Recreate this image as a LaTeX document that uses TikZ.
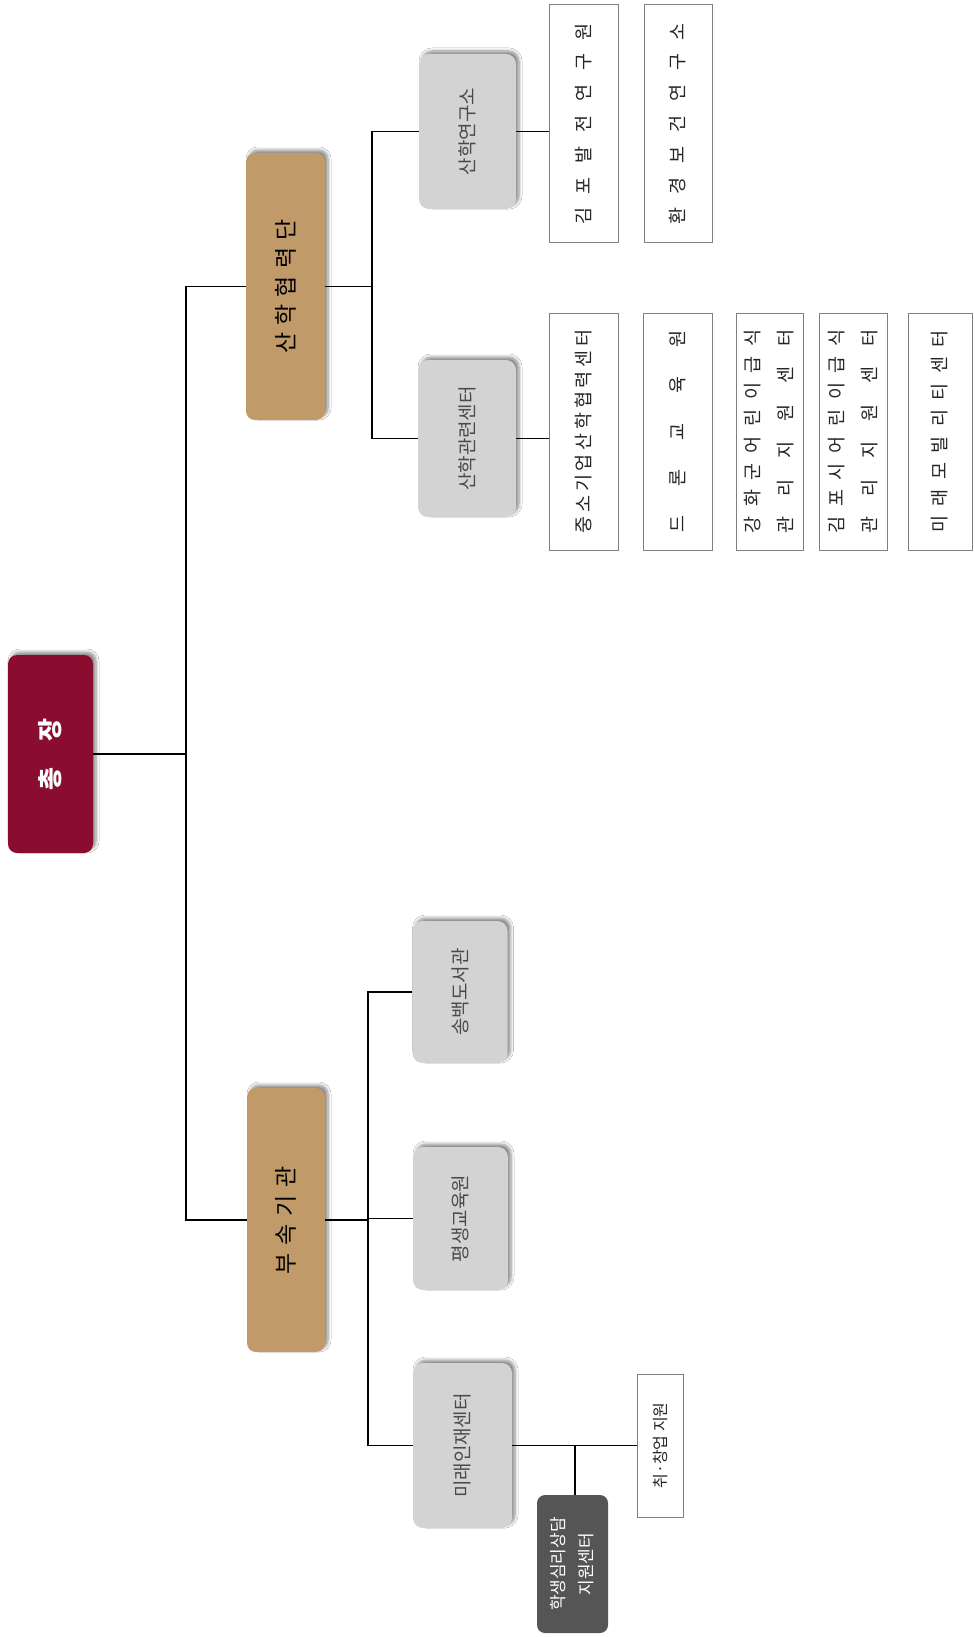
\documentclass[tikz,border=0pt]{standalone}
\usepackage{fontspec}
\setmainfont{Noto Sans CJK KR}
\usetikzlibrary{shadows,shadows.blur}
\definecolor{chiefc}{HTML}{8A0C2E}
\definecolor{tanc}{HTML}{C09A69}
\definecolor{lgray}{HTML}{D3D3D3}
\definecolor{dgray}{HTML}{555555}
\definecolor{bord}{HTML}{808080}
\definecolor{gtext}{HTML}{4A4A4A}
\newcommand\vspread[3]{\rotatebox{90}{\fontsize{#1}{#1}\selectfont\makebox[#2][s]{#3}}}
\newcommand\vplain[2]{\rotatebox{90}{\fontsize{#1}{#1}\selectfont #2}}
\newcommand\vtwo[4]{\rotatebox{90}{\fontsize{#1}{#1}\selectfont\vbox{\baselineskip=#2\lineskiplimit=0pt\hbox{#3}\hbox{#4}}}}
\tikzset{
  sh/.style={blur shadow={shadow xshift=3pt,shadow yshift=3pt,shadow blur steps=6,shadow blur radius=3pt,shadow opacity=45}},
  chiefbox/.style={fill=chiefc, text=white, rounded corners=9pt, inner sep=0pt, sh},
  tanbox/.style={fill=tanc, text=black, rounded corners=9pt, inner sep=0pt, sh},
  graybox/.style={fill=lgray, text=gtext, rounded corners=10pt, inner sep=0pt, sh},
  darkbox/.style={fill=dgray, text=white, rounded corners=8pt, inner sep=0pt},
  whitebox/.style={draw=bord, fill=white, line width=1pt, inner sep=0pt, text=black!85},
  conn/.style={draw=black, line width=1.1pt},
}
\begin{document}
\begin{tikzpicture}[x=1pt,y=-1pt]
\path[use as bounding box, fill=white] (0,0) rectangle (974,1637);

% top level
\node[chiefbox, minimum width=85pt, minimum height=198pt] (chief) at (50.5,754)
  {\rotatebox{90}{\bfseries\fontsize{25}{25}\selectfont\makebox[72pt][s]{총 장}}};
\node[tanbox, minimum width=79pt, minimum height=267pt] (sanhak) at (285.5,286.5)
  {\vspread{23}{134pt}{산 학 협 력 단}};
\node[tanbox, minimum width=78pt, minimum height=264pt] (busok) at (286,1220)
  {\vspread{23}{108pt}{부 속 기 관}};

% gray boxes
\node[graybox, minimum width=97pt, minimum height=155pt] (yeon) at (467.5,131.5)
  {\vplain{19}{산학연구소}};
\node[graybox, minimum width=98pt, minimum height=157pt] (gwan) at (467,438.5)
  {\vplain{19}{산학관련센터}};
\node[graybox, minimum width=95pt, minimum height=142pt] (song) at (460,992)
  {\vplain{19}{송백도서관}};
\node[graybox, minimum width=95pt, minimum height=143pt] (pyeong) at (460.5,1218.5)
  {\vplain{19}{평생교육원}};
\node[graybox, minimum width=99pt, minimum height=165pt] (mirae) at (462.5,1445.5)
  {\vplain{19}{미래인재센터}};

% white boxes (top)
\node[whitebox, minimum width=69pt, minimum height=238pt] (w1) at (583.5,124)
  {\vspread{18.5}{202pt}{김 포 발 전 연 구 원}};
\node[whitebox, minimum width=68pt, minimum height=238pt] (w2) at (678,124)
  {\vspread{18.5}{202pt}{환 경 보 건 연 구 소}};

% white boxes (middle)
\node[whitebox, minimum width=69pt, minimum height=237pt] (b1) at (583.5,431.5)
  {\vspread{18.5}{204pt}{중 소 기 업 산 학 협 력 센 터}};
\node[whitebox, minimum width=69pt, minimum height=237pt] (b2) at (677.5,431.5)
  {\vspread{18.5}{202pt}{드 론 교 육 원}};
\node[whitebox, minimum width=67pt, minimum height=237pt] (b3) at (769.5,431.5)
  {\vtwo{18.5}{33pt}{\makebox[204pt][s]{강 화 군 어 린 이 급 식}}{\makebox[204pt][s]{관 리 지 원 센 터}}};
\node[whitebox, minimum width=68pt, minimum height=237pt] (b4) at (853,431.5)
  {\vtwo{18.5}{33pt}{\makebox[204pt][s]{김 포 시 어 린 이 급 식}}{\makebox[204pt][s]{관 리 지 원 센 터}}};
\node[whitebox, minimum width=64pt, minimum height=237pt] (b5) at (940,431.5)
  {\vspread{18.5}{202pt}{미 래 모 빌 리 티 센 터}};

% bottom small boxes
\node[whitebox, minimum width=46pt, minimum height=143pt] (chwi) at (660,1445.5)
  {\vplain{16}{취·창업 지원}};
\node[darkbox, minimum width=71pt, minimum height=138pt] (dark) at (572.5,1564)
  {\vtwo{17}{28pt}{\hbox to 110pt{\hss 학생심리상담\hss}}{\hbox to 110pt{\hss 지원센터\hss}}};

% connectors
\coordinate (tx) at (186,754);
\draw[conn] (chief.east) -- (tx);
\draw[conn] (sanhak.west) -- (sanhak.west -| tx) -- (busok.west -| tx) -- (busok.west);

\coordinate (s1) at (372,287);
\draw[conn] (sanhak.east) -- (sanhak.east -| s1);
\draw[conn] (yeon.west) -- (yeon.west -| s1) -- (gwan.west -| s1) -- (gwan.west);
\draw[conn] (yeon.east) -- (yeon.east -| w1.west);
\draw[conn] (gwan.east) -- (gwan.east -| b1.west);

\coordinate (s2) at (368,1219);
\draw[conn] (busok.east) -- (busok.east -| s2);
\draw[conn] (song.west) -- (song.west -| s2) -- (mirae.west -| s2) -- (mirae.west);
\draw[conn] (pyeong.west) -- (pyeong.west -| s2);
\draw[conn] (mirae.east) -- (mirae.east -| chwi.west);
\coordinate (br) at (575,1445.5);
\draw[conn] (br) -- (br |- dark.north);
\end{tikzpicture}
\end{document}
